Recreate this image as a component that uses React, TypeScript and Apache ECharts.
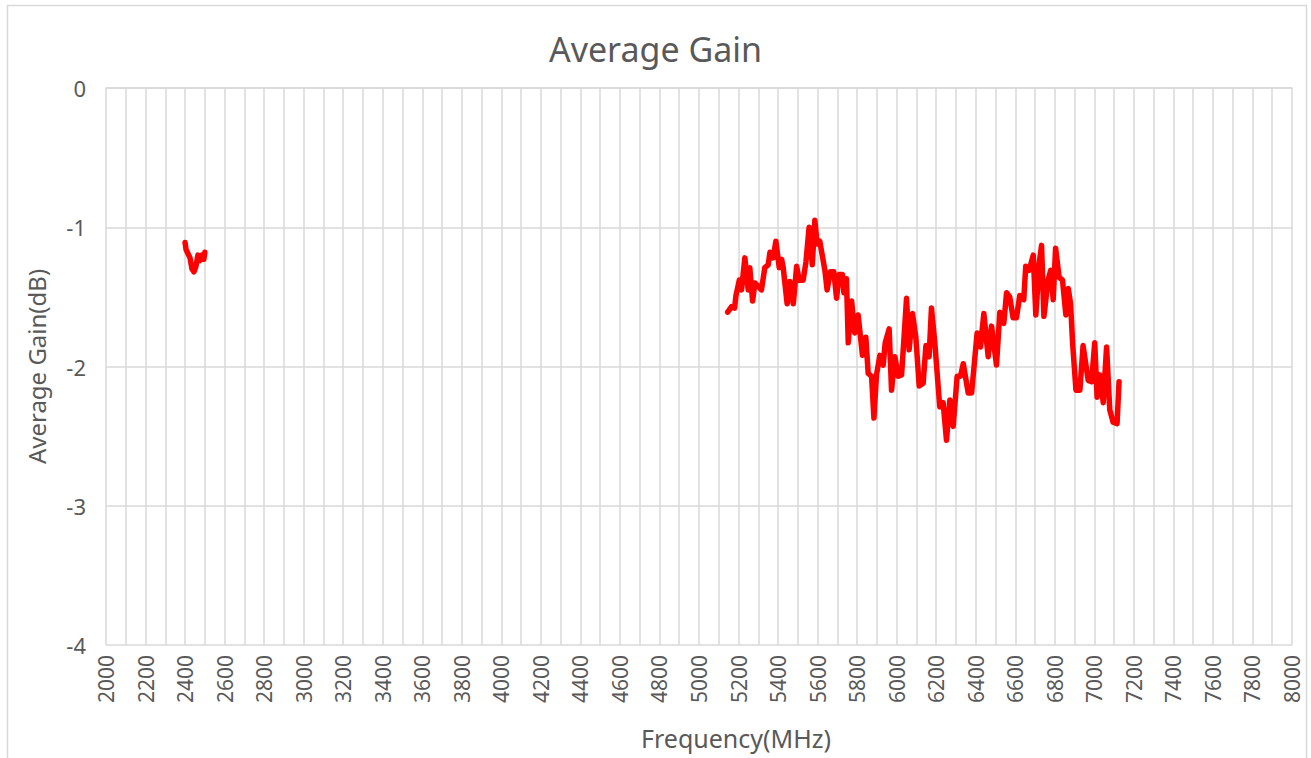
import React, { useEffect, useRef } from "react";
import * as echarts from "echarts";

const band24Freq = [2400, 2405, 2415, 2425, 2435, 2445, 2455, 2465, 2475, 2485, 2495, 2500];
const band24Gain = [-1.11, -1.16, -1.19, -1.22, -1.3, -1.32, -1.28, -1.2, -1.24, -1.2, -1.23, -1.18];

const band5Freq = [
  5145, 5165, 5180, 5187, 5204, 5215, 5232, 5249, 5257, 5271, 5283, 5316, 5333, 5350, 5359, 5375,
  5389, 5406, 5418, 5426, 5446, 5460, 5477, 5494, 5507, 5527, 5541, 5557, 5573, 5586, 5598, 5611,
  5637, 5648, 5665, 5682, 5696, 5709, 5726, 5733, 5746, 5755, 5772, 5788, 5805, 5827, 5844, 5856,
  5873, 5885, 5898, 5915, 5932, 5942, 5962, 5974, 5991, 6008, 6025, 6050, 6063, 6080, 6097, 6114,
  6134, 6148, 6164, 6176, 6193, 6218, 6235, 6252, 6269, 6286, 6306, 6323, 6337, 6362, 6379, 6396,
  6407, 6424, 6441, 6463, 6480, 6505, 6522, 6542, 6556, 6572, 6589, 6606, 6623, 6643, 6653, 6670,
  6691, 6704, 6721, 6733, 6745, 6766, 6779, 6792, 6804, 6822, 6839, 6856, 6868, 6880, 6890, 6907,
  6927, 6943, 6969, 6986, 7002, 7014, 7028, 7045, 7062, 7078, 7095, 7115, 7125
];
const band5Gain = [
  -1.61, -1.57, -1.58, -1.49, -1.38, -1.45, -1.22, -1.45, -1.29, -1.53, -1.4, -1.45, -1.29, -1.27, -1.18, -1.22,
  -1.1, -1.29, -1.23, -1.29, -1.55, -1.39, -1.55, -1.28, -1.38, -1.38, -1.25, -1.0, -1.27, -0.95, -1.12, -1.1,
  -1.31, -1.45, -1.32, -1.32, -1.51, -1.34, -1.34, -1.47, -1.37, -1.83, -1.53, -1.76, -1.63, -1.92, -1.79, -2.05,
  -2.07, -2.37, -2.06, -1.92, -1.99, -1.83, -1.73, -2.17, -1.93, -2.07, -2.06, -1.51, -1.88, -1.62, -1.79, -2.14,
  -2.12, -1.85, -1.93, -1.58, -1.83, -2.29, -2.26, -2.53, -2.24, -2.43, -2.07, -2.07, -1.98, -2.19, -2.19, -1.93,
  -1.76, -1.86, -1.62, -1.93, -1.71, -1.99, -1.61, -1.69, -1.47, -1.5, -1.65, -1.65, -1.49, -1.52, -1.28, -1.31,
  -1.2, -1.63, -1.26, -1.13, -1.64, -1.38, -1.31, -1.52, -1.15, -1.36, -1.38, -1.63, -1.44, -1.55, -1.83, -2.17,
  -2.17, -1.85, -2.1, -2.11, -1.83, -2.22, -2.06, -2.26, -1.86, -2.31, -2.4, -2.41, -2.11
];

const FONT = "'Noto Sans', 'Open Sans', sans-serif";
const TEXT = "#595959";
const GRID = "#D9D9D9";

export default function App() {
  const ref = useRef<HTMLDivElement>(null);
  useEffect(() => {
    if (!ref.current) return;
    const chart = echarts.init(ref.current, undefined, { renderer: "svg" });
    const line = (f: number[], g: number[]) => ({
      type: "line",
      data: f.map((x, i) => [x, g[i]]),
      showSymbol: false,
      lineStyle: { color: "#FF0000", width: 5.5, join: "round", cap: "round" },
      itemStyle: { color: "#FF0000" },
      silent: true,
    });
    chart.setOption({
      animation: false,
      backgroundColor: "#ffffff",
      textStyle: { fontFamily: FONT },
      title: {
        text: "Average Gain",
        left: "center",
        top: 27,
        textStyle: { color: TEXT, fontSize: 34, fontWeight: "normal", fontFamily: FONT },
      },
      graphic: [
        {
          type: "rect",
          shape: { x: 7.5, y: 5.5, width: 1299, height: 770 },
          style: { fill: "none", stroke: GRID, lineWidth: 1.5 },
          silent: true,
        },
      ],
      grid: { left: 106, right: 19, top: 88, bottom: 113 },
      xAxis: {
        type: "value",
        min: 2000,
        max: 8000,
        interval: 100,
        name: "Frequency(MHz)",
        nameLocation: "middle",
        nameGap: 80,
        nameTextStyle: { color: TEXT, fontSize: 25, fontFamily: FONT, padding: [0, 0, 0, 74] },
        axisLine: { show: true, lineStyle: { color: GRID, width: 1.5 } },
        axisTick: { show: false },
        splitLine: { show: true, lineStyle: { color: GRID, width: 1.5 } },
        axisLabel: {
          rotate: 90,
          margin: 10,
          color: TEXT,
          fontSize: 21,
          fontFamily: FONT,
          formatter: (v: number) => (v % 200 === 0 ? String(v) : ""),
        },
      },
      yAxis: {
        type: "value",
        min: -4,
        max: 0,
        interval: 1,
        name: "Average Gain(dB)",
        nameLocation: "middle",
        nameGap: 58,
        nameTextStyle: { color: TEXT, fontSize: 24, fontFamily: FONT },
        axisLine: { show: false },
        axisTick: { show: false },
        splitLine: { show: true, lineStyle: { color: GRID, width: 1.5 } },
        axisLabel: { color: TEXT, fontSize: 22, margin: 20, fontFamily: FONT },
      },
      series: [line(band24Freq, band24Gain), line(band5Freq, band5Gain)],
    });
    return () => chart.dispose();
  }, []);
  return (
    <div
      ref={ref}
      style={{ position: "fixed", left: 0, top: 0, width: 1311, height: 758, background: "#fff" }}
    />
  );
}
